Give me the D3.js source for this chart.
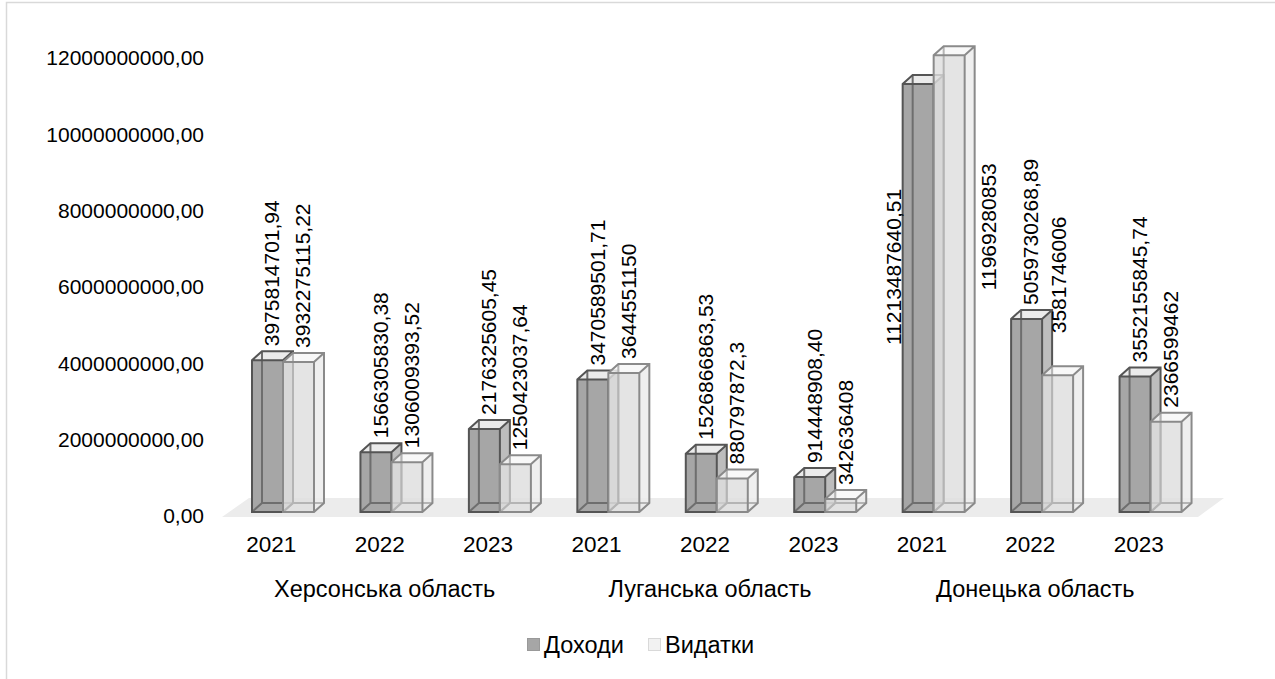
<!DOCTYPE html>
<html>
<head>
<meta charset="utf-8">
<script src="https://cdn.jsdelivr.net/npm/d3@7"></script>
<style>
  body { margin: 0; background: #fff; }
  text { font-family: "Liberation Sans", Arial, sans-serif; fill: #000; }
</style>
</head>
<body>
<svg id="chart"></svg>
<script>
var regions = ["Херсонська область", "Луганська область", "Донецька область"];
var years = ["2021", "2022", "2023"];
var seriesNames = ["Доходи", "Видатки"];

var incomes = [3975814701.94, 1566305830.38, 2176325605.45,
               3470589501.71, 1526866863.53, 914448908.40,
               11213487640.51, 5059730268.89, 3552155845.74];
var expenses = [3932275115.22, 1306009393.52, 1250423037.64,
                3644551150, 880797872.3, 342636408,
                11969280853, 3581746006, 2366599462];

var incomeLabels = ["3975814701,94", "1566305830,38", "2176325605,45",
                    "3470589501,71", "1526866863,53", "914448908,40",
                    "11213487640,51", "5059730268,89", "3552155845,74"];
var expenseLabels = ["3932275115,22", "1306009393,52", "1250423037,64",
                     "3644551150", "880797872,3", "342636408",
                     "11969280853", "3581746006", "2366599462"];

var yTicks = [0, 2e9, 4e9, 6e9, 8e9, 10e9, 12e9];

var width = 1275, height = 679;
var base = 512;            // front bottom of the bars
var depthX = 10, depthY = -9;
var barW = 31;

var styles = [
  {front: "#a6a6a6", side: "#bdbdbd", top: "#ebebeb", edge: "#555555", hidden: "#6e6e6e", op: 1},
  {front: "#dedede", side: "#ececec", top: "#f6f6f6", edge: "#8a8a8a", hidden: "#b4b4b4", op: 0.82}
];

var svg = d3.select("#chart").attr("width", width).attr("height", height);

//Chart frame (runs off the page on the right and bottom)
svg.append("rect")
  .attr("x", 6.5).attr("y", 2.5)
  .attr("width", 1400).attr("height", 800)
  .style("fill", "none").style("stroke", "#d9d9d9").style("stroke-width", 1.5);

//Scales
var cats = d3.range(incomes.length);
var x = d3.scaleBand().domain(cats).range([222, 1198]);
var y = d3.scaleLinear().domain([0, 12e9]).range([base, base - 458]);

//Floor
var r = x.range();
svg.append("path")
  .attr("d", "M" + r[0] + "," + (base + 5) + "L" + (r[0] + 27) + "," + (base - 14) +
             "L" + (r[1] + 26) + "," + (base - 14) + "L" + r[1] + "," + (base + 5) + "Z")
  .style("fill", "#ececec");

//Y axis labels
var yAxis = svg.append("g")
  .attr("transform", "translate(204,4)")
  .call(d3.axisLeft(y).tickValues(yTicks).tickSize(0).tickPadding(0)
    .tickFormat(function(d){ return d3.format(".2f")(d).replace(".", ","); }));
yAxis.select(".domain").remove();
yAxis.attr("font-family", null);
yAxis.selectAll("text").style("font-size", "21px");

//X axis: years
var xAxis = svg.append("g")
  .attr("transform", "translate(-5,536)")
  .call(d3.axisBottom(x).tickSize(0).tickPadding(0)
    .tickFormat(function(d){ return years[d % years.length]; }));
xAxis.select(".domain").remove();
xAxis.attr("font-family", null);
xAxis.selectAll("text").style("font-size", "22.5px");

//Region labels
svg.selectAll(".region")
  .data(regions)
  .enter().append("text")
  .attr("class", "region")
  .attr("x", function(d, i){ return x(i * 3 + 1) + x.bandwidth() / 2; })
  .attr("y", 589)
  .attr("dy", "0.35em")
  .attr("text-anchor", "middle")
  .style("font-size", "23.5px")
  .text(function(d){ return d; });

//Bars
var items = [];
cats.forEach(function(i){
  items.push({i: i, s: 0, v: incomes[i], label: incomeLabels[i]});
  items.push({i: i, s: 1, v: expenses[i], label: expenseLabels[i]});
});

function pts(a){ return "M" + a.map(function(p){ return p.join(","); }).join("L"); }

var boxes = svg.selectAll(".box")
  .data(items)
  .enter().append("g")
  .attr("class", "box");

boxes.each(function(d){
  var g = d3.select(this), st = styles[d.s];
  var x0 = x(d.i) + 30 + d.s * barW, x1 = x0 + barW;
  var yT = y(d.v), yB = y(0);
  var dx = depthX, dy = depthY;

  //faces
  g.append("rect").attr("x", x0).attr("y", yT).attr("width", barW).attr("height", yB - yT)
    .style("fill", st.front).style("fill-opacity", st.op);
  g.append("path").attr("d", pts([[x1, yT], [x1 + dx, yT + dy], [x1 + dx, yB + dy], [x1, yB]]) + "Z")
    .style("fill", st.side).style("fill-opacity", st.op);
  g.append("path").attr("d", pts([[x0, yT], [x0 + dx, yT + dy], [x1 + dx, yT + dy], [x1, yT]]) + "Z")
    .style("fill", st.top).style("fill-opacity", st.op);

  //edges seen through the box
  g.append("path")
    .attr("d", pts([[x0 + dx, yT + dy], [x0 + dx, yB + dy], [x1 + dx, yB + dy]]) +
               pts([[x0, yB], [x0 + dx, yB + dy]]))
    .style("fill", "none").style("stroke", st.hidden).style("stroke-width", 2);

  //outer edges
  g.append("path")
    .attr("d", pts([[x0, yB], [x0, yT], [x0 + dx, yT + dy], [x1 + dx, yT + dy], [x1 + dx, yB + dy], [x1, yB]]) + "Z" +
               pts([[x0, yT], [x1, yT], [x1 + dx, yT + dy]]) +
               pts([[x1, yT], [x1, yB]]))
    .style("fill", "none").style("stroke", st.edge).style("stroke-width", 2)
    .style("stroke-linejoin", "miter");
});

//Data labels (a few were moved by hand in the original)
var nudge = {"0-6": [-29, 275], "1-6": [35, 249], "1-7": [-3, -28]};

boxes.append("text")
  .attr("transform", function(d){
    var cx = x(d.i) + 30 + d.s * barW + 20;
    var by = y(d.v) + depthY - 5;
    var n = nudge[d.s + "-" + d.i];
    if(n){ cx += n[0]; by += n[1]; }
    return "translate(" + cx + "," + by + ") rotate(-90)";
  })
  .attr("dy", "0.35em")
  .style("font-size", "21px")
  .text(function(d){ return d.label; });

//Legend
var legend = svg.append("g").attr("transform", "translate(527,645)");
var lx = [0, 121];
var legendFill = ["#a6a6a6", "#f2f2f2"], legendStroke = ["#999999", "#d9d9d9"];
seriesNames.forEach(function(name, i){
  legend.append("rect")
    .attr("x", lx[i] + 0.5).attr("y", -6.5).attr("width", 12).attr("height", 12)
    .style("fill", legendFill[i]).style("stroke", legendStroke[i]);
  legend.append("text")
    .attr("x", lx[i] + 17).attr("y", 0).attr("dy", "0.35em")
    .style("font-size", "23.5px")
    .text(name);
});
</script>
</body>
</html>
